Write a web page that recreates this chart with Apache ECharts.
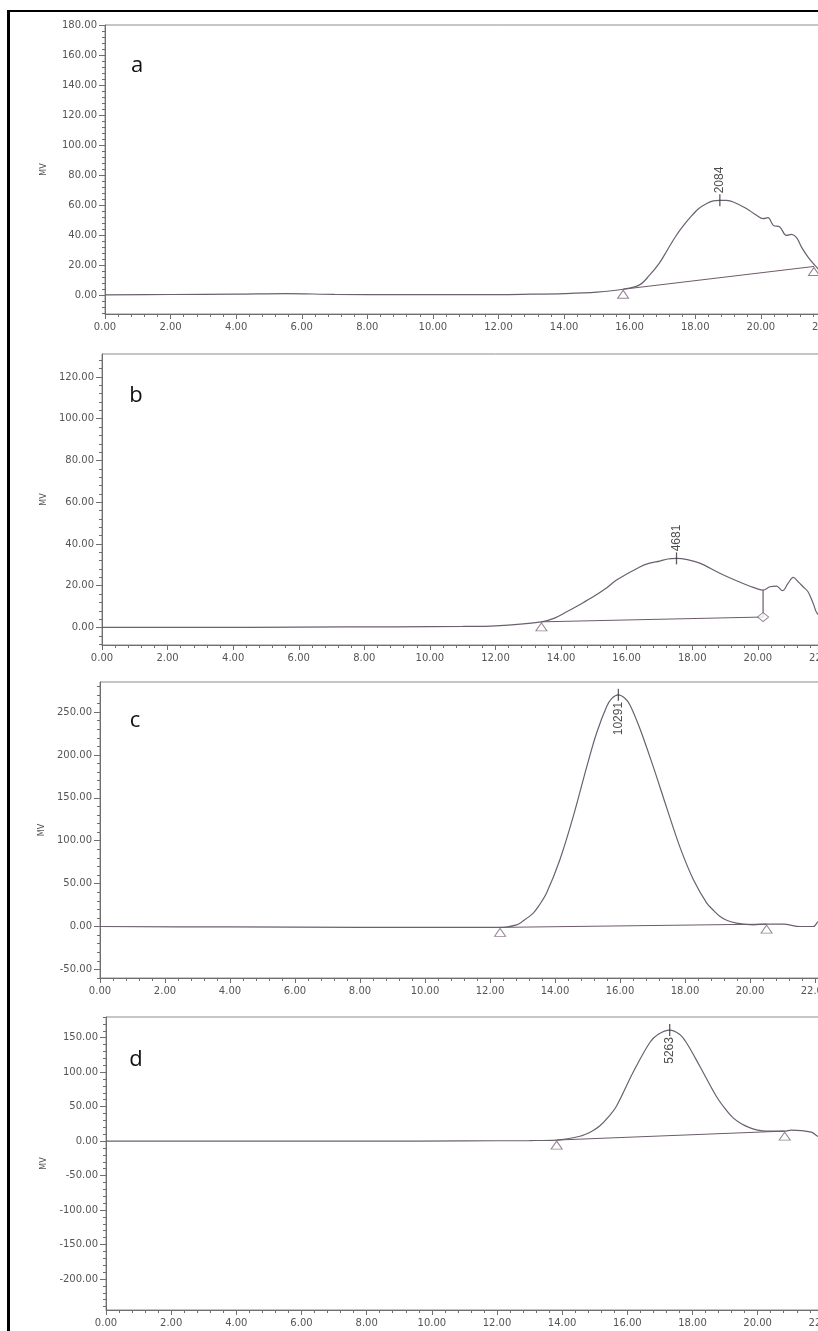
<!DOCTYPE html>
<html>
<head>
<meta charset="utf-8">
<script src="https://cdn.jsdelivr.net/npm/echarts@6/dist/echarts.min.js"></script>
<style>
  html, body { margin: 0; padding: 0; background: #fff; overflow: hidden; }
  #wrap { position: relative; width: 818px; height: 1331px; overflow: hidden; }
  #chart { position: absolute; left: 0; top: 0; width: 920px; height: 1331px; }
  #frame { position: absolute; left: 7px; top: 10px; width: 1000px; height: 1400px;
           border-left: 3px solid #000; border-top: 2px solid #000; pointer-events: none; }
</style>
</head>
<body>
<div id="wrap">
  <div id="chart"></div>
  <div id="frame"></div>
</div>
<script>
// --- panel a ---
const timeA = [0, 2, 4, 5.5, 7, 9, 11, 12, 13, 14, 15, 15.8, 16.3, 16.6, 16.9, 17.15, 17.4, 17.65, 17.9, 18.1, 18.35, 18.55, 18.75, 18.95, 19.16, 19.56, 19.87, 20.07, 20.22, 20.38, 20.58, 20.78, 20.94, 21.09, 21.24, 21.44, 21.65, 22, 22.5, 23, 24]
const mvA = [0, 0.3, 0.5, 0.9, 0.4, 0.2, 0.3, 0.2, 0.5, 0.9, 1.9, 3.8, 6.7, 13, 21, 30, 39, 46.5, 53, 57.5, 61, 62.7, 63.1, 63, 62, 57.6, 53.1, 50.9, 51.5, 46.4, 45.3, 39.7, 40.4, 38.2, 31.9, 25.2, 19.7, 12, 6, 3, 2]
const peakA = [18.75, 63.1, '2084']
const baseA = [[15.8, 3.8], [21.62, 19]]
const yTicksA = [0, 20, 40, 60, 80, 100, 120, 140, 160, 180]

// --- panel b ---
const timeB = [0, 3, 6, 9, 11, 12, 13.4, 13.8, 14.17, 14.55, 14.98, 15.35, 15.69, 16.4, 16.7, 17.01, 17.25, 17.52, 17.85, 18.23, 18.84, 19.35, 19.86, 20.16, 20.37, 20.57, 20.75, 20.92, 21.08, 21.23, 21.38, 21.53, 21.69, 21.81, 22.1, 22.6, 23.2, 24]
const mvB = [0, 0, 0.2, 0.3, 0.5, 0.8, 2.7, 4.5, 7.5, 10.8, 14.7, 18.5, 22.7, 29, 30.8, 31.8, 32.8, 33.1, 32.5, 30.8, 26, 22.4, 19.2, 17.9, 19.5, 19.8, 17.6, 21.1, 24, 21.9, 19.5, 17.1, 11.5, 6.7, 3, 1.5, 1, 0.5]
const peakB = [17.52, 33.1, '4681']
const baseB = [[13.4, 2.7], [20.16, 5]]
const dropB = [[20.16, 17.9], [20.16, 5]]
const yTicksB = [0, 20, 40, 60, 80, 100, 120]

// --- panel c ---
const timeC = [0, 4, 8, 12, 12.31, 12.82, 13.0, 13.33, 13.5, 13.74, 14.15, 14.56, 14.98, 15.28, 15.59, 15.75, 15.95, 16.15, 16.31, 16.62, 17.02, 17.44, 17.85, 18.26, 18.67, 18.9, 19.08, 19.3, 19.59, 20.1, 20.51, 21.02, 21.54, 21.95, 22.1, 22.5, 23, 24]
const mvC = [0, -0.5, -1, -1, -1, 2, 6, 15.6, 24, 39, 77.8, 128, 186.6, 225.5, 256.5, 266, 270, 266, 258, 230, 186.6, 138, 92, 54.5, 27.3, 18, 11.7, 7, 4, 2, 2.8, 2.8, 0, 0, 5.8, 12, 8, 3]
const peakC = [15.95, 270, '10291']
const baseC = [[12.31, -1], [20.51, 2.8]]
const yTicksC = [-50, 0, 50, 100, 150, 200, 250]

// --- panel d ---
const timeD = [0, 4, 8, 11, 13, 13.83, 14.54, 14.9, 15.15, 15.4, 15.67, 16.17, 16.69, 16.95, 17.3, 17.6, 17.81, 18.22, 18.73, 19.0, 19.24, 19.5, 19.75, 20.0, 20.27, 20.83, 21.03, 21.65, 21.84, 22.2, 23, 24]
const mvD = [0, 0, 0, 0.3, 0.8, 1.5, 7, 14, 21.8, 34, 51, 99, 143, 155, 161, 155, 143, 109, 65, 47, 34, 25, 19.5, 16, 14.5, 14.5, 16, 13, 7, 2, 0.5, 0]
const peakD = [17.3, 161, '5263']
const baseD = [[13.83, 1.5], [20.83, 14.5]]
const yTicksD = [-200, -150, -100, -50, 0, 50, 100, 150]

const xTicks = { min: 0, max: 24, interval: 2 }

const LINE = '#6b6070'
const AXIS = '#6f6f6f'
const TEXT = '#555'
const FONT = 'DejaVu Sans'

function steps(from, to, step) {
  const out = []
  for (let v = from; v <= to + 1e-9; v += step) out.push(Math.round(v * 100) / 100)
  return out
}

const panels = [
  { letter: 'a', t: timeA, v: mvA, peak: peakA, below: false, base: baseA, drop: null,
    yMin: -12.7, yMax: 180, ticks: yTicksA, minor: steps(-12, 180, 4),
    grid: { left: 105, top: 25, width: 787, height: 289 }, nameGap: 57, letterPos: [137, 66] },
  { letter: 'b', t: timeB, v: mvB, peak: peakB, below: false, base: baseB, drop: dropB,
    yMin: -8.4, yMax: 131, ticks: yTicksB, minor: steps(-8, 128, 4),
    grid: { left: 102, top: 354, width: 787, height: 291 }, nameGap: 54, letterPos: [136, 396] },
  { letter: 'c', t: timeC, v: mvC, peak: peakC, below: true, base: baseC, drop: null,
    yMin: -60, yMax: 285, ticks: yTicksC, minor: steps(-60, 280, 10),
    grid: { left: 100, top: 682, width: 780, height: 296 }, nameGap: 52, letterPos: [135, 721] },
  { letter: 'd', t: timeD, v: mvD, peak: peakD, below: true, base: baseD, drop: null,
    yMin: -245, yMax: 180, ticks: yTicksD, minor: steps(-240, 180, 10),
    grid: { left: 106, top: 1017, width: 782, height: 293 }, nameGap: 58, letterPos: [136, 1060] },
]

const grid = []
const xAxis = []
const yAxis = []
const series = []
const graphic = []

panels.forEach((p, i) => {
  grid.push({ ...p.grid, show: true, borderColor: '#8c8c8c', borderWidth: 1, containLabel: false })

  xAxis.push({
    gridIndex: i, type: 'value', min: xTicks.min, max: xTicks.max, interval: xTicks.interval,
    axisLine: { onZero: false, lineStyle: { color: AXIS, width: 1 } },
    axisTick: { show: true, length: 5, lineStyle: { color: AXIS } },
    minorTick: { show: true, splitNumber: 5, length: 3, lineStyle: { color: AXIS } },
    axisLabel: { formatter: (v) => v.toFixed(2), fontFamily: FONT, fontSize: 10, color: TEXT, margin: 8 },
    splitLine: { show: false },
    minorSplitLine: { show: false },
  })

  yAxis.push({
    gridIndex: i, type: 'value', min: p.yMin, max: p.yMax, position: 'left',
    name: 'MV', nameLocation: 'middle', nameGap: p.nameGap,
    nameTextStyle: { fontFamily: FONT, fontSize: 8, color: TEXT },
    axisLine: { show: true, onZero: false, lineStyle: { color: AXIS, width: 1 } },
    axisTick: { show: true, length: 6, customValues: p.ticks, lineStyle: { color: AXIS } },
    axisLabel: { customValues: p.ticks, formatter: (v) => v.toFixed(2), fontFamily: FONT, fontSize: 10, color: TEXT, margin: 8 },
    splitLine: { show: false },
  })
  yAxis.push({
    gridIndex: i, type: 'value', min: p.yMin, max: p.yMax, position: 'left',
    axisLine: { show: false, onZero: false },
    axisTick: { show: true, length: 3, customValues: p.minor, lineStyle: { color: AXIS } },
    axisLabel: { show: false },
    splitLine: { show: false },
  })

  const yi = i * 2
  series.push({
    type: 'line', xAxisIndex: i, yAxisIndex: yi,
    data: p.t.map((t, k) => [t, p.v[k]]),
    showSymbol: false, smooth: 0.35,
    lineStyle: { color: LINE, width: 1.2 }, z: 2,
  })
  series.push({
    type: 'line', xAxisIndex: i, yAxisIndex: yi, data: p.base,
    showSymbol: false, lineStyle: { color: '#6d5a6b', width: 1 }, z: 2,
  })
  if (p.drop) {
    series.push({
      type: 'line', xAxisIndex: i, yAxisIndex: yi, data: p.drop,
      showSymbol: false, lineStyle: { color: '#6d5a6b', width: 1.2 }, z: 2,
    })
    series.push({
      type: 'scatter', xAxisIndex: i, yAxisIndex: yi, data: [p.base[0]],
      symbol: 'triangle', symbolSize: [11, 8], symbolOffset: [0, 5],
      itemStyle: { color: '#fff', borderColor: '#7a6478', borderWidth: 1 }, z: 4,
    })
    series.push({
      type: 'scatter', xAxisIndex: i, yAxisIndex: yi, data: [p.base[1]],
      symbol: 'diamond', symbolSize: [11, 9],
      itemStyle: { color: '#fff', borderColor: '#7a6478', borderWidth: 1 }, z: 4,
    })
  } else {
    series.push({
      type: 'scatter', xAxisIndex: i, yAxisIndex: yi, data: p.base,
      symbol: 'triangle', symbolSize: [11, 8], symbolOffset: [0, 5],
      itemStyle: { color: '#fff', borderColor: '#7a6478', borderWidth: 1 }, z: 4,
    })
  }
  series.push({
    type: 'scatter', xAxisIndex: i, yAxisIndex: yi, data: [p.peak],
    symbol: 'rect', symbolSize: [1.3, 12],
    itemStyle: { color: '#333' }, z: 5,
    label: {
      show: true, formatter: (params) => params.value[2], rotate: 90,
      position: p.below ? 'bottom' : 'top', distance: 1,
      align: p.below ? 'right' : 'left', verticalAlign: 'middle',
      fontFamily: 'Liberation Sans', fontSize: 12, color: '#222',
    },
  })

  graphic.push({
    type: 'text', x: p.letterPos[0], y: p.letterPos[1],
    style: { text: p.letter, font: '22px "Open Sans"', fill: '#111', textAlign: 'center', textVerticalAlign: 'middle' },
  })
})

const chart = echarts.init(document.getElementById('chart'))
chart.setOption({ animation: false, grid, xAxis, yAxis, series, graphic })
</script>
</body>
</html>
